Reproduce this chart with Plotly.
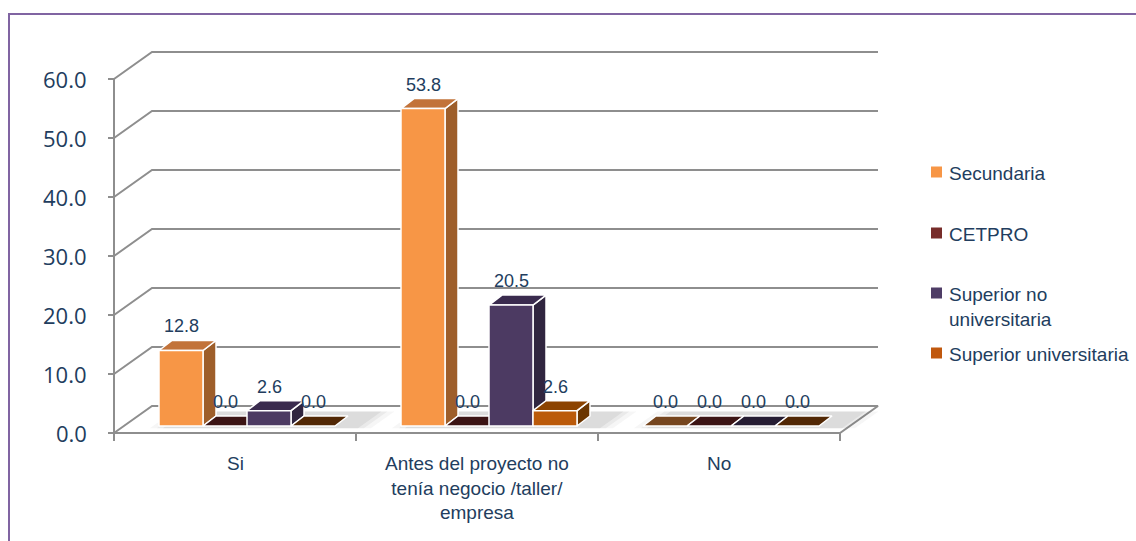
import plotly.graph_objects as go

# ---------------- data ----------------
categories = ["Si", "Antes del proyecto no<br>tenía negocio /taller/<br>empresa", "No"]
series_names = ["Secundaria", "CETPRO", "Superior no universitaria", "Superior universitaria"]
legend_labels = ["Secundaria", "CETPRO", "Superior no<br>universitaria", "Superior universitaria"]
secundaria = [12.8, 53.8, 0.0]
cetpro = [0.0, 0.0, 0.0]
superior_no_univ = [2.6, 20.5, 0.0]
superior_univ = [0.0, 2.6, 0.0]
y_ticks = [0, 10, 20, 30, 40, 50, 60]

series_values = [secundaria, cetpro, superior_no_univ, superior_univ]

# ---------------- styles ----------------
front_col = ["#F79646", "#772C2A", "#4C3A62", "#BB5A0A"]
side_col = ["#9E5E2A", "#4A1A1A", "#30253F", "#6B3500"]
top_col = ["#C2733A", "#5A2020", "#3A2B4E", "#8C4300"]
flat_col = ["#76461F", "#3C1414", "#261D33", "#522805"]
legend_col = ["#F79646", "#772C2A", "#4F3D66", "#C0580E"]
TXT = "#223D5E"
GRID = "#8E8E8E"

W, H = 1136, 541
PX_L, PX_R, PX_T, PX_B = 102, 890, 47, 443
FRONT_X0 = 114      # pixel of x = -0.5
Y0_PX = 433         # pixel of y = 0 (front plane)
KX = 242.0          # px per category
KY = 5.9            # px per value unit
DX, DY = 38 / KX, 27 / KY               # wall depth in data units
F0X, F0Y = 10 / KX, 7 / KY              # bar front plane offset
BDX, BDY = 13 / KX, 10 / KY             # bar depth
BW = 44 / KX                            # bar width
SHIFT = 2 / KX

x_range = [-0.5 - (FRONT_X0 - PX_L) / KX, -0.5 + (PX_R - FRONT_X0) / KX]
y_range = [-(PX_B - Y0_PX) / KY, (Y0_PX - PX_T) / KY]


def px2paper(px, py):
    return (px - PX_L) / (PX_R - PX_L), (PX_B - py) / (PX_B - PX_T)


fig = go.Figure()


def add_lines(xs, ys, color=GRID, width=2):
    fig.add_trace(go.Scatter(x=xs, y=ys, mode="lines", line=dict(color=color, width=width),
                             hoverinfo="skip", showlegend=False))


def add_poly(xs, ys, fill, line="white", lw=1.5):
    fig.add_trace(go.Scatter(x=xs + [xs[0]], y=ys + [ys[0]], mode="lines", fill="toself",
                             fillcolor=fill, line=dict(color=line, width=lw),
                             hoverinfo="skip", showlegend=False))


n_cat = len(categories)
xl_wall, xr_wall = -0.5, n_cat - 0.5

# gridlines on side and back walls
gx, gy = [], []
for v in y_ticks[1:]:
    gx += [xl_wall, xl_wall + DX, xr_wall + DX, None]
    gy += [v, v + DY, v + DY, None]
add_lines(gx, gy)

# floor
add_poly([xl_wall, xr_wall, xr_wall + DX, xl_wall + DX], [0, 0, DY, DY], "white", GRID, 2)
# soft floor shadows under bar clusters
for i in range(n_cat):
    cx = i + F0X + SHIFT
    for pad, op in [(16, 0.06), (9, 0.08), (3, 0.10)]:
        x0 = cx - 2 * BW - pad / KX
        x1 = cx + 2 * BW + pad / KX + BDX
        d0 = 0.18
        d1 = 0.80
        add_poly([x0 + DX * d0, x1 + DX * d0, x1 + DX * d1, x0 + DX * d1],
                 [DY * d0, DY * d0, DY * d1, DY * d1], f"rgba(100,100,100,{op})",
                 "rgba(0,0,0,0)", 0)

# front vertical axis, y ticks, x ticks
add_lines([xl_wall, xl_wall], [0, y_ticks[-1]])
tx, ty = [], []
for v in y_ticks:
    tx += [xl_wall - 6 / KX, xl_wall, None]
    ty += [v, v, None]
for k in range(n_cat + 1):
    tx += [xl_wall + k, xl_wall + k, None]
    ty += [0, -8 / KY, None]
add_lines(tx, ty)

# bars
for i in range(n_cat):
    for j, vals in enumerate(series_values):
        v = vals[i]
        xl = i + F0X + SHIFT + (j - 2) * BW
        xr = xl + BW
        yb = F0Y
        yt = F0Y + v
        if v > 0:
            add_poly([xr, xr + BDX, xr + BDX, xr], [yb, yb + BDY, yt + BDY, yt], side_col[j])
        add_poly([xl, xr, xr + BDX, xl + BDX], [yt, yt, yt + BDY, yt + BDY],
                 top_col[j] if v > 0 else flat_col[j])
        if v > 0:
            add_poly([xl, xr, xr, xl], [yb, yb, yt, yt], front_col[j])
        fig.add_annotation(x=(xl + xr) / 2, y=yt + BDY, xref="x", yref="y", text=f"{v:.1f}",
                           showarrow=False, yshift=14,
                           font=dict(family="Liberation Sans Narrow, Arial Narrow, Liberation Sans",
                                     size=18, color=TXT))

# y tick labels
for v in y_ticks:
    px_, _ = px2paper(89, 0)
    fig.add_annotation(x=px_, y=v, xref="paper", yref="y", text=f"{v:.1f}", showarrow=False,
                       xanchor="right", font=dict(family="Open Sans", size=22, color=TXT))

# category labels
for i, c in enumerate(categories):
    fig.add_annotation(x=i, y=0, xref="x", yref="y", text=c, showarrow=False,
                       yanchor="top", yshift=-18,
                       font=dict(family="Liberation Sans, Arial", size=19, color=TXT))

# custom legend
leg_y = [172, 233, 293, 353]
for k, name in enumerate(legend_labels):
    x0, y0 = px2paper(931, leg_y[k] - 5.5)
    x1, y1 = px2paper(942, leg_y[k] + 5.5)
    fig.add_shape(type="rect", xref="paper", yref="paper", x0=x0, x1=x1, y0=y0, y1=y1,
                  fillcolor=legend_col[k], line=dict(width=0))
    lx, ly = px2paper(947, leg_y[k] - 11)
    fig.add_annotation(x=lx, y=ly, xref="paper", yref="paper", text=name, showarrow=False,
                       xanchor="left", yanchor="top", align="left",
                       font=dict(family="Liberation Sans, Arial", size=19, color=TXT))

# outer border
bx0, by0 = px2paper(9, 14)
bx1, by1 = px2paper(1150, 560)
fig.add_shape(type="rect", xref="paper", yref="paper", x0=bx0, y0=by1, x1=bx1, y1=by0,
              line=dict(color="#8064A2", width=2), fillcolor="rgba(0,0,0,0)", layer="below")

fig.update_layout(
    width=W, height=H,
    margin=dict(l=PX_L, r=W - PX_R, t=PX_T, b=H - PX_B, pad=0),
    paper_bgcolor="white", plot_bgcolor="white",
    xaxis=dict(range=x_range, visible=False, fixedrange=True),
    yaxis=dict(range=y_range, visible=False, fixedrange=True),
    showlegend=False,
)

fig.write_html("out.html")
